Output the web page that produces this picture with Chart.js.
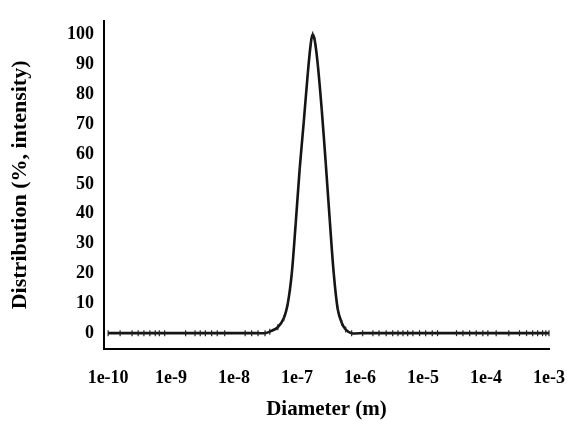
<!DOCTYPE html>
<html>
<head>
<meta charset="utf-8">
<title>Distribution</title>
<script src="https://cdn.jsdelivr.net/npm/chart.js@4.4.1/dist/chart.umd.min.js"></script>
<style>
  html, body { margin: 0; padding: 0; background: #fff; }
  .chart__body { position: relative; width: 567px; height: 421px; }
</style>
</head>
<body>
<div class="chart__body"><canvas id="myChart"></canvas></div>
<script>
// Diameter (m) of every measured point
const diameters = [
  1e-10, 1.55e-10, 2.4e-10, 3.0e-10, 3.7e-10, 4.6e-10, 5.6e-10, 6.5e-10, 7.9e-10,
  1.7e-9, 2.4e-9, 2.9e-9, 3.5e-9, 4.4e-9, 5.4e-9, 7.1e-9,
  1.5e-8, 1.9e-8, 2.4e-8, 3.1e-8, 3.69e-8, 4.94e-8, 6.15e-8, 7.13e-8, 8.24e-8, 9.53e-8,
  1.1e-7, 1.28e-7, 1.48e-7, 1.65e-7, 1.77e-7, 1.91e-7, 2.13e-7, 2.46e-7, 2.85e-7,
  3.3e-7, 3.82e-7, 4.42e-7, 5.11e-7, 5.92e-7, 7.36e-7,
  1.1e-6, 1.6e-6, 2.0e-6, 2.6e-6, 3.3e-6, 4.0e-6, 4.8e-6, 5.7e-6, 6.9e-6, 8.8e-6,
  1.1e-5, 1.4e-5, 1.7e-5, 3.4e-5, 4.3e-5, 5.5e-5, 7.0e-5, 8.9e-5,
  1.07e-4, 1.45e-4, 2.3e-4, 3.4e-4, 4.4e-4, 5.5e-4, 6.6e-4, 7.9e-4, 8.9e-4,
  1.0e-3, 1.12e-3,
];
// Distribution (%, intensity)
const intensity = [
  0, 0, 0, 0, 0, 0, 0, 0, 0,
  0, 0, 0, 0, 0, 0, 0,
  0, 0, 0, 0, 0.5, 2, 5, 10, 20, 37,
  55, 71, 87, 97, 100, 98, 90, 75, 57,
  38, 20, 8, 3.5, 1.2, 0,
  0, 0, 0, 0, 0, 0, 0, 0, 0,
  0, 0, 0, 0, 0, 0, 0, 0,
  0, 0, 0, 0, 0, 0, 0, 0, 0,
  0, 0,
];
const xTicks = [1e-10, 1e-9, 1e-8, 1e-7, 1e-6, 1e-5, 1e-4, 1e-3];
const xTickLabels = ["1e-10", "1e-9", "1e-8", "1e-7", "1e-6", "1e-5", "1e-4", "1e-3"];
const yTicks = [0, 10, 20, 30, 40, 50, 60, 70, 80, 90, 100];

const serif = "'Liberation Serif', 'Times New Roman', serif";

// setup
const data = {
  datasets: [
    {
      label: "Distribution",
      data: diameters.map((d, i) => ({ x: d, y: intensity[i] })),
      borderColor: "#141414",
      borderWidth: 2.6,
      pointStyle: "line",
      pointRotation: 90,
      pointRadius: 3,
      pointBorderWidth: 1.2,
      pointBorderColor: "#222",
      pointBackgroundColor: "#222",
      tension: 0.3,
      clip: false,
    },
  ],
};

// config
const config = {
  type: "line",
  data,
  options: {
    responsive: true,
    maintainAspectRatio: false,
    animation: false,
    layout: { padding: { top: 14, right: 0, left: 0, bottom: 0 } },
    plugins: {
      legend: { display: false },
      tooltip: { enabled: false },
    },
    scales: {
      x: {
        type: "logarithmic",
        min: 8.6e-11,
        max: 1e-3,
        afterBuildTicks: (scale) => {
          scale.ticks = xTicks.map((v) => ({ value: v }));
        },
        afterFit: (scale) => {
          scale.height = 72;
          // the last label may run to the edge of the canvas, as in the picture
          scale.paddingRight = 18;
          scale.paddingLeft = 0;
        },
        grid: { display: false, drawTicks: false },
        border: { display: true, color: "#000", width: 2 },
        ticks: {
          autoSkip: false,
          maxRotation: 0,
          padding: 19,
          color: "#000",
          font: { family: serif, size: 18, weight: "bold" },
          callback: (value, index) => xTickLabels[index],
        },
        title: {
          display: true,
          text: "Diameter (m)",
          color: "#000",
          font: { family: serif, size: 21, weight: "bold", lineHeight: 1.05 },
          padding: { top: 0, bottom: 0 },
        },
      },
      y: {
        min: -5.3,
        max: 104.6,
        afterBuildTicks: (scale) => {
          scale.ticks = yTicks.map((v) => ({ value: v }));
        },
        afterFit: (scale) => {
          scale.width = 104;
        },
        grid: { display: false, drawTicks: false },
        border: { display: true, color: "#000", width: 2 },
        ticks: {
          padding: 10,
          color: "#000",
          font: { family: serif, size: 18, weight: "bold" },
        },
        title: {
          display: true,
          text: "Distribution (%, intensity)",
          color: "#000",
          font: { family: serif, size: 22, weight: "bold", lineHeight: 1.1 },
          padding: { top: 8, bottom: 0 },
        },
      },
    },
  },
};

// render init block
const myChart = new Chart(document.getElementById("myChart"), config);
</script>
</body>
</html>
